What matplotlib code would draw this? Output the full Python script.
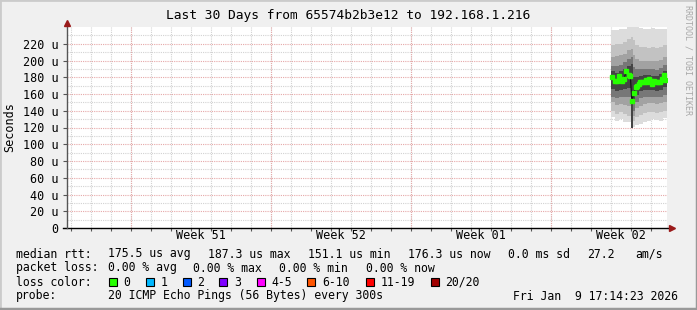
import numpy as np
import matplotlib
matplotlib.use('Agg')
import matplotlib.pyplot as plt
from matplotlib.patches import Rectangle
from matplotlib.lines import Line2D

plt.rcParams['font.family'] = ['DejaVu Sans Mono']

# ---- data (x in days from the left edge of the 30-day window, y in microseconds) ----
week_labels = ['Week 51', 'Week 52', 'Week 01', 'Week 02']
first_week_start = 3.215      # day of the first week boundary
first_midnight = 0.215

# smoke columns: edges and bands (outer -> inner)
smoke_edges = [27.2, 27.4, 27.6, 27.8, 28.0, 28.2, 28.275, 28.4, 28.6, 28.8,
               29.0, 29.2, 29.4, 29.6, 29.8, 30.0]
hi0 = [236, 237, 238, 238, 240, 240, 240, 240, 239, 238, 238, 239, 238, 238, 238]
lo0 = [133, 128, 130, 127, 126, 119, 121, 123, 124, 126, 128, 130, 129, 128, 131]
hi1 = [218, 220, 220, 222, 226, 228, 224, 218, 216, 216, 215, 216, 215, 216, 218]
lo1 = [140, 136, 138, 136, 134, 120, 128, 132, 135, 137, 138, 138, 137, 138, 140]
hi2 = [204, 205, 206, 208, 212, 214, 206, 202, 200, 200, 200, 200, 199, 201, 204]
lo2 = [150, 147, 148, 147, 146, 120, 134, 143, 146, 148, 149, 149, 148, 149, 151]
hi3 = [194, 194, 195, 198, 202, 204, 192, 190, 190, 190, 190, 190, 189, 191, 195]
lo3 = [157, 155, 156, 156, 156, 119, 140, 151, 155, 157, 157, 157, 156, 157, 159]
hi4 = [187, 185, 187, 190, 194, 196, 180, 180, 182, 183, 183, 182, 182, 184, 188]
lo4 = [166, 164, 165, 166, 167, 119, 148, 159, 163, 165, 165, 165, 164, 165, 168]

# median rtt
med_t = [27.25, 27.39, 27.49, 27.60, 27.70, 27.77, 27.85, 27.97, 28.09, 28.17,
         28.24, 28.34, 28.44, 28.50, 28.59, 28.67, 28.77, 28.85, 28.94, 29.00,
         29.10, 29.19, 29.25, 29.35, 29.45, 29.54, 29.64, 29.74, 29.84, 29.92]
med_us = [180.0, 175.5, 176.0, 181.0, 177.0, 176.0, 178.5, 187.3, 183.0, 181.0,
          151.1, 161.0, 168.0, 169.0, 172.0, 174.5, 174.0, 174.5, 177.0, 174.0,
          177.5, 176.0, 172.0, 176.0, 174.5, 174.0, 174.0, 178.5, 183.0, 176.3]

loss_labels = ['0', '1', '2', '3', '4-5', '6-10', '11-19', '20/20']
loss_colors = ['#26ff00', '#00b8ff', '#0059ff', '#7e00ff', '#ff00ff', '#ff5500', '#ff0000', '#a00000']

W, H = 697, 310
fig = plt.figure(figsize=(W / 100, H / 100), dpi=100, facecolor='#F0F0F0')

def fx(px):
    return px / W

def fy(py):
    return 1 - py / H

# plot area: x 67..667, y 27..228
ax = fig.add_axes([fx(67), fy(228), 600 / W, 201 / H])
ax.set_facecolor('white')
ax.set_xlim(0, 30)
ax.set_ylim(0, 240)
for s in ax.spines.values():
    s.set_visible(False)

# grid
dots = (0, (1, 1))
for d in np.arange(first_midnight, 30, 1.0):
    ax.axvline(d, color='#d2d2d2', lw=0.8, ls=dots, zorder=0)
for d in np.arange(first_week_start, 30, 7.0):
    ax.axvline(d, color='#e6a8a8', lw=0.8, ls=dots, zorder=0.1)
for v in range(10, 240, 20):
    ax.axhline(v, color='#d2d2d2', lw=0.8, ls=dots, zorder=0)
for v in range(20, 240, 20):
    ax.axhline(v, color='#e6a8a8', lw=0.8, ls=dots, zorder=0.1)

# smoke
def band(lo, hi, color):
    ax.fill_between(smoke_edges, lo + lo[-1:], hi + hi[-1:], step='post',
                    color=color, lw=0, zorder=1)

band(lo0, hi0, '#dcdcdc')
band(lo1, hi1, '#c2c2c2')
band(lo2, hi2, '#a2a2a2')
band(lo3, hi3, '#777777')
band(lo4, hi4, '#444444')

# median
ax.plot(med_t, med_us, color='#101010', lw=0.8, zorder=2)
ax.plot(med_t, med_us, ls='none', marker='s', ms=2.6, mfc=loss_colors[0],
        mec=loss_colors[0], zorder=3)

# ticks
ax.set_yticks(range(0, 240, 20))
ax.set_yticklabels(['0'] + [f'{v} u' for v in range(20, 240, 20)])
ax.tick_params(axis='y', length=3, width=0.8, color='#555555', pad=3, labelsize=8.5)
ax.set_xticks(np.arange(first_midnight, 30, 1.0))
ax.set_xticklabels([])
ax.tick_params(axis='x', length=2, width=0.8, color='#555555')

for i, lab in enumerate(week_labels):
    ax.text(first_week_start + 3.5 + 7 * i, -9, lab, ha='center', va='center',
            fontsize=8.5, clip_on=False)

# axes lines and arrows
fig.add_artist(Line2D([fx(63), fx(670)], [fy(228), fy(228)], color='black', lw=1.0))
fig.add_artist(Line2D([fx(67), fx(67)], [fy(228), fy(24)], color='#555555', lw=1.0))
fig.add_artist(Line2D([fx(672)], [fy(228)], marker='>', ms=4, color='#9a1a1a', mec='#9a1a1a'))
fig.add_artist(Line2D([fx(67)], [fy(23)], marker='^', ms=4, color='#9a1a1a', mec='#9a1a1a'))

# title, y label, watermark
fig.text(0.5, fy(16), 'Last 30 Days from 65574b2b3e12 to 192.168.1.216',
         ha='center', va='center', fontsize=9.3)
fig.text(fx(10), fy(127.5), 'Seconds', rotation=90, ha='center', va='center', fontsize=8.5)
fig.text(fx(688), fy(5), 'RRDTOOL / TOBI OETIKER', rotation=270, ha='center', va='top',
         fontsize=6, color='#a8a8a8')

# legend
fs = 8.3
rows = {
    254: [(16, 'median rtt:'), (108, '175.5 us avg'), (207.7, '187.3 us max'),
          (308, '151.1 us min'), (407.7, '176.3 us now'), (507.7, '0.0 ms sd'),
          (586.7, '27.2'), (635, 'am/s')],
    268: [(16, 'packet loss:'), (108, '0.00 % avg'), (193.3, '0.00 % max'),
          (279.3, '0.00 % min'), (365.7, '0.00 % now')],
    282: [(16, 'loss color:')],
    296: [(16, 'probe:'), (108, '20 ICMP Echo Pings (56 Bytes) every 300s'),
          (513.3, 'Fri Jan  9 17:14:23 2026')],
}
for py, items in rows.items():
    for px, s in items:
        fig.text(fx(px), fy(py), s, ha='left', va='center', fontsize=fs)

box_x = [108.7, 145.7, 182.7, 219.3, 256.7, 307.3, 365.7, 431.0]
for bx, lab, col in zip(box_x, loss_labels, loss_colors):
    fig.add_artist(Rectangle((fx(bx), fy(286)), 8 / W, 8 / H, facecolor=col,
                             edgecolor='black', lw=0.8))
    fig.text(fx(bx + 14.5), fy(282), lab, ha='left', va='center', fontsize=fs)

# bevel border
fig.add_artist(Line2D([0, 0, 1], [0, 1, 1], color='#cbcbcb', lw=2))
fig.add_artist(Line2D([0, 1, 1], [0.002, 0.002, 1], color='#999999', lw=2.5))

fig.savefig('out.png', dpi=100, facecolor=fig.get_facecolor())
